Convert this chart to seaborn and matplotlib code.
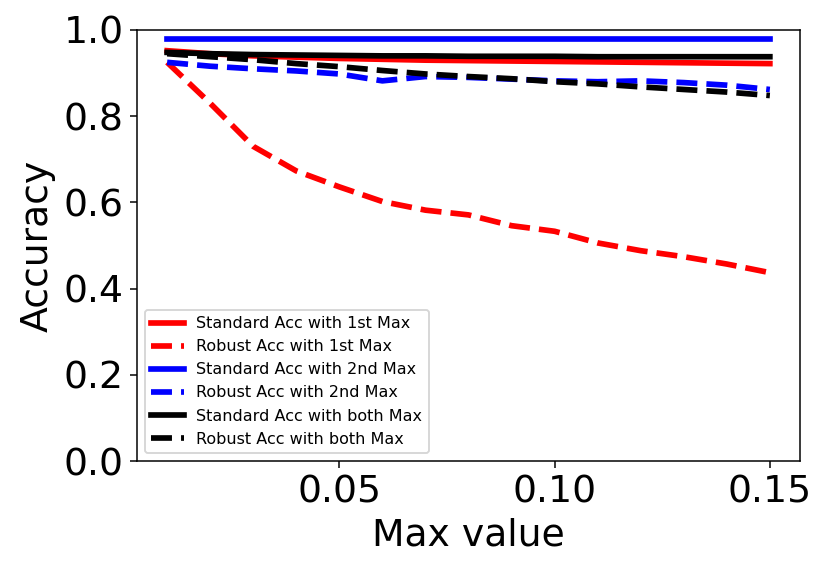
import matplotlib
matplotlib.use("Agg")
import matplotlib.pyplot as plt
import pandas as pd
import seaborn as sns

max_values = [0.01, 0.02, 0.03, 0.04, 0.05, 0.06, 0.07, 0.08,
              0.09, 0.10, 0.11, 0.12, 0.13, 0.14, 0.15]

std_acc_1st = [0.952, 0.945, 0.940, 0.937, 0.934, 0.932, 0.930, 0.929,
               0.928, 0.927, 0.926, 0.925, 0.924, 0.923, 0.922]
rob_acc_1st = [0.925, 0.830, 0.730, 0.673, 0.636, 0.602, 0.582, 0.571,
               0.546, 0.533, 0.506, 0.488, 0.474, 0.457, 0.437]
std_acc_2nd = [0.978, 0.978, 0.978, 0.978, 0.978, 0.978, 0.978, 0.978,
               0.978, 0.978, 0.978, 0.978, 0.978, 0.978, 0.978]
rob_acc_2nd = [0.925, 0.916, 0.910, 0.905, 0.898, 0.882, 0.892, 0.890,
               0.886, 0.882, 0.880, 0.882, 0.878, 0.872, 0.862]
std_acc_both = [0.948, 0.945, 0.943, 0.942, 0.941, 0.940, 0.940, 0.939,
                0.939, 0.939, 0.938, 0.938, 0.938, 0.938, 0.938]
rob_acc_both = [0.945, 0.938, 0.931, 0.922, 0.915, 0.906, 0.898, 0.892,
                0.887, 0.880, 0.875, 0.868, 0.862, 0.856, 0.848]

series = [
    ('Standard Acc with 1st Max', std_acc_1st, 'red', '-'),
    ('Robust Acc with 1st Max', rob_acc_1st, 'red', '--'),
    ('Standard Acc with 2nd Max', std_acc_2nd, 'blue', '-'),
    ('Robust Acc with 2nd Max', rob_acc_2nd, 'blue', '--'),
    ('Standard Acc with both Max', std_acc_both, 'black', '-'),
    ('Robust Acc with both Max', rob_acc_both, 'black', '--'),
]


def gerar_plotagem():

    dpi = 136
    fig = plt.figure(figsize=(831 / dpi, 575 / dpi), dpi=dpi)
    ax = fig.add_axes([137 / 831, 114 / 575, 663 / 831, 431 / 575])

    for nome, valores, cor, estilo in series:
        df = pd.DataFrame({'max': max_values, 'acc': valores})
        sns.lineplot(data=df, x='max', y='acc', color=cor, linestyle=estilo,
                     linewidth=3, label=nome, ax=ax)

    ax.set_ylim(0, 1)
    ax.set_yticks([0.0, 0.2, 0.4, 0.6, 0.8, 1.0])
    ax.set_xticks([0.05, 0.10, 0.15])
    ax.tick_params(labelsize=20)
    ax.set_xlabel('Max value', fontsize=20)
    ax.set_ylabel('Accuracy', fontsize=20)
    ax.legend(loc='lower left', fontsize=8.5)

    return fig


if __name__ == '__main__':
    fig = gerar_plotagem()
    fig.savefig('out.png', dpi=136)
